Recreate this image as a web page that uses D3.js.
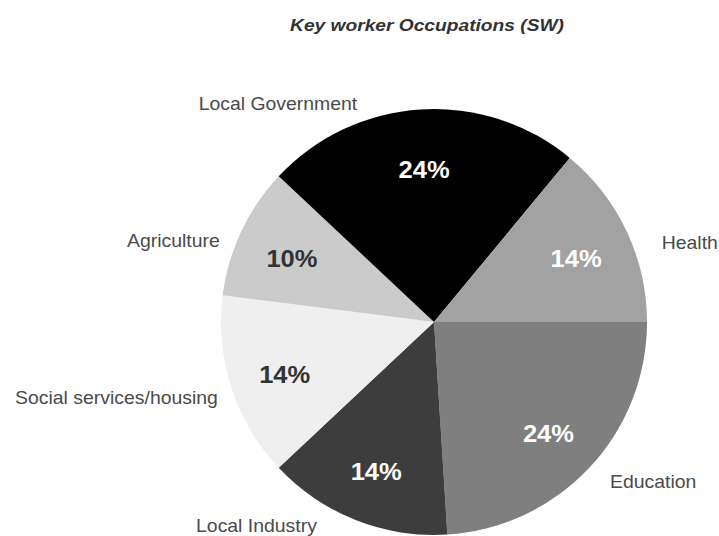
<!DOCTYPE html>
<html>
<head>
<meta charset="utf-8">
<script src="https://cdn.jsdelivr.net/npm/d3@7/dist/d3.min.js"></script>
<style>
  html, body { margin: 0; padding: 0; background: #fff; }
  svg { display: block; }
</style>
</head>
<body>
<script>
// Share of key worker occupations in the South West, clockwise from 3 o'clock
const categories = ["Education", "Local Industry", "Social services/housing", "Agriculture", "Local Government", "Health"];
const shares = [24, 14, 14, 10, 24, 14];
const sliceColors = ["#7f7f7f", "#3d3d3d", "#efefef", "#cbcbcb", "#000000", "#a2a2a2"];
const valueTextColors = ["#ffffff", "#ffffff", "#333333", "#333333", "#ffffff", "#ffffff"];
const title = "Key worker Occupations (SW)";

const W = 719, H = 536;
const cx = 434, cy = 322, R = 213;
const stretch = 1.11;               // horizontal stretch applied to every text
const labelRadius = R + 20;         // category labels sit just outside the rim
const valueRadius = 157;            // percentage labels inside each slice
// fine layout tweaks for category labels: [angle offset in degrees, radial offset]
const labelNudge = {
  "Education": [-0.9, 5],
  "Local Industry": [8.3, 2],
  "Social services/housing": [-1.3, -4],
  "Agriculture": [-4.5, -4],
  "Local Government": [-15.8, -2],
  "Health": [6.1, 8]
};

const svg = d3.select("body").append("svg")
  .attr("width", W).attr("height", H);

svg.append("g")
  .attr("transform", `translate(427,31) scale(1.2,1)`)
  .append("text")
  .attr("text-anchor", "middle")
  .attr("font-family", "Liberation Sans, Arial, sans-serif")
  .attr("font-size", 16)
  .attr("font-weight", "bold")
  .attr("font-style", "italic")
  .attr("fill", "#333")
  .text(title);

const data = categories.map((c, i) => ({ name: c, value: shares[i], color: sliceColors[i], txt: valueTextColors[i] }));

const pie = d3.pie().sort(null).value(d => d.value)
  .startAngle(Math.PI / 2).endAngle(Math.PI / 2 + 2 * Math.PI);
const arcs = pie(data);
const arc = d3.arc().innerRadius(0).outerRadius(R);

const g = svg.append("g").attr("transform", `translate(${cx},${cy})`);

g.selectAll("path.slice").data(arcs).join("path")
  .attr("class", "slice")
  .attr("d", arc)
  .attr("fill", d => d.data.color);

// percentage labels
const valueArc = d3.arc().innerRadius(valueRadius).outerRadius(valueRadius);
g.selectAll("g.value").data(arcs).join("g")
  .attr("class", "value")
  .attr("transform", d => {
    const [x, y] = valueArc.centroid(d);
    return `translate(${x},${y + 4}) scale(${stretch},1)`;
  })
  .append("text")
  .attr("text-anchor", "middle")
  .attr("dy", "0.36em")
  .attr("font-family", "Liberation Sans, Arial, sans-serif")
  .attr("font-size", 23)
  .attr("font-weight", "bold")
  .attr("fill", d => d.data.txt)
  .text(d => d.data.value + "%");

// category labels outside the pie
g.selectAll("g.cat").data(arcs).join("g")
  .attr("class", "cat")
  .each(function (d) {
    const nudge = labelNudge[d.data.name] || [0, 0];
    const a = (d.startAngle + d.endAngle) / 2 + nudge[0] * Math.PI / 180;
    const rr = labelRadius + nudge[1];
    const x = rr * Math.sin(a), y = -rr * Math.cos(a);
    d3.select(this)
      .attr("transform", `translate(${x},${y}) scale(${stretch},1)`)
      .append("text")
      .attr("text-anchor", x < 0 ? "end" : "start")
      .attr("dy", "0.36em")
      .attr("font-family", "Liberation Sans, Arial, sans-serif")
      .attr("font-size", 17.5)
      .attr("fill", "#4a4a4a")
      .text(d.data.name);
  });
</script>
</body>
</html>
